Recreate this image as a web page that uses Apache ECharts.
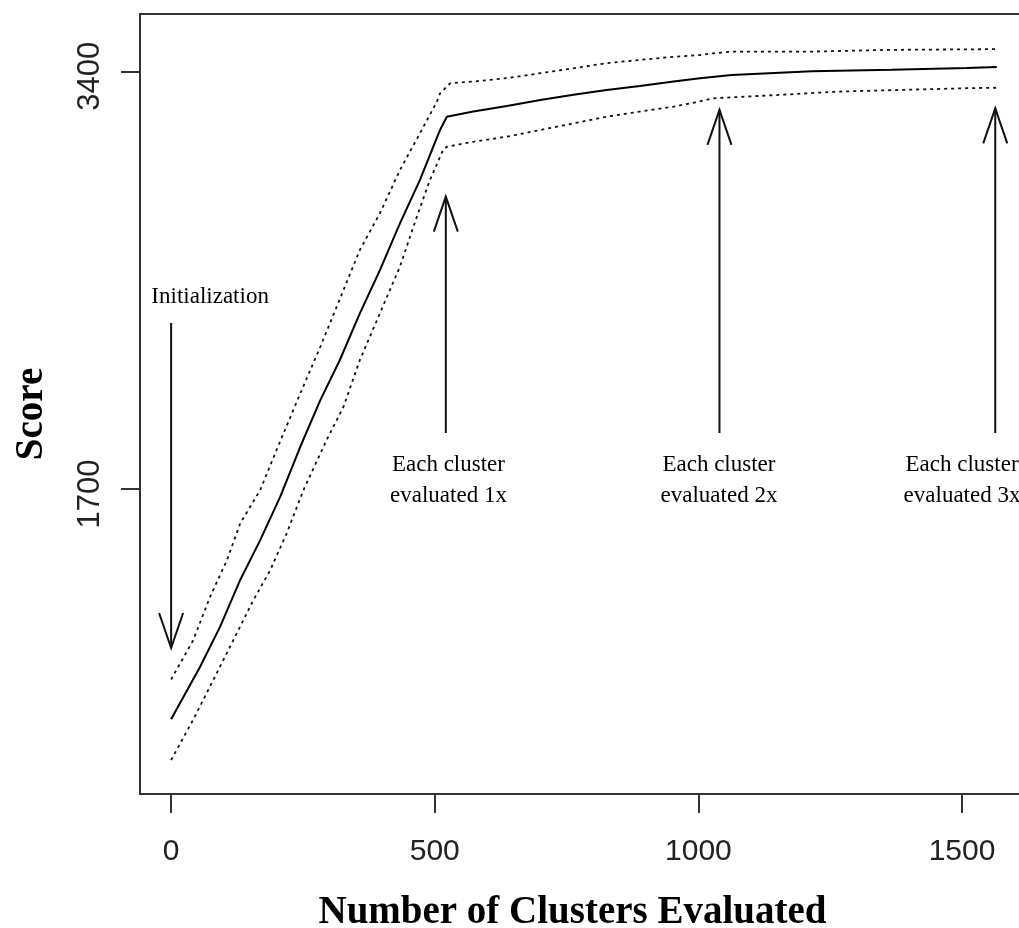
<!DOCTYPE html>
<html>
<head>
<meta charset="utf-8">
<title>Score vs Number of Clusters Evaluated</title>
<script src="https://cdn.jsdelivr.net/npm/echarts@6/dist/echarts.min.js"></script>
<style>
  html, body { margin: 0; padding: 0; background: #ffffff; }
  #chart { width: 1019px; height: 928px; }
</style>
</head>
<body>
<div id="chart"></div>
<script>
// Mean score curve and its upper / lower bounds
const meanX  = [0, 55, 93, 131, 169, 207, 245, 283, 320, 358, 396, 434, 472, 510, 523, 573, 637, 700, 763, 826, 889, 953, 1003, 1063, 1215, 1367, 1509, 1566];
const meanY  = [763, 977, 1140, 1330, 1492, 1669, 1872, 2062, 2225, 2415, 2591, 2781, 2958, 3161, 3215, 3236, 3259, 3283, 3304, 3324, 3340, 3358, 3372, 3385, 3400, 3406, 3413, 3417];

const upperX = [0, 42, 74, 106, 131, 169, 200, 245, 283, 327, 358, 396, 434, 472, 504, 510, 529, 573, 637, 700, 763, 826, 889, 953, 1003, 1028, 1066, 1218, 1357, 1566];
const upperY = [925, 1085, 1262, 1411, 1560, 1696, 1859, 2089, 2279, 2510, 2673, 2822, 2998, 3148, 3276, 3310, 3351, 3358, 3372, 3392, 3412, 3433, 3446, 3459, 3466, 3473, 3480, 3480, 3487, 3490];

const lowerX = [0, 42, 80, 118, 156, 188, 219, 251, 295, 327, 358, 396, 434, 466, 491, 516, 523, 573, 637, 700, 763, 826, 889, 953, 1000, 1028, 1092, 1155, 1262, 1382, 1509, 1566];
const lowerY = [597, 762, 923, 1085, 1248, 1370, 1519, 1696, 1900, 2035, 2225, 2415, 2605, 2808, 2958, 3080, 3093, 3113, 3134, 3161, 3188, 3215, 3236, 3256, 3276, 3290, 3297, 3304, 3317, 3324, 3331, 3333];

// Axis ticks
const xTicks = [0, 500, 1000, 1500];
const yTicks = [1700, 3400];

// Annotation arrows: x position, tail value, tip value
const arrowX    = [0, 521, 1040, 1563];
const arrowTail = [2376, 1928, 1928, 1928];
const arrowTip  = [1053, 2890, 3243, 3249];

// Annotation texts
const noteX    = [74, 526, 1039, 1500];
const noteY    = [2482, 1733, 1733, 1733];
const noteText = ['Initialization', 'Each cluster\nevaluated 1x', 'Each cluster\nevaluated 2x', 'Each cluster\nevaluated 3x'];

const pairs = (xs, ys) => xs.map((x, i) => [x, ys[i]]);
const plain = v => String(v);

const chart = echarts.init(document.getElementById('chart'), null, { renderer: 'canvas' });

const serifTitle = { fontFamily: 'Liberation Serif', fontWeight: 'bold', fontSize: 39, color: '#000' };

chart.setOption({
  animation: false,
  backgroundColor: '#ffffff',
  grid: {
    left: 140, top: 14, width: 889, height: 780,
    outerBoundsMode: 'none', containLabel: false,
    show: true, borderColor: '#333', borderWidth: 2, backgroundColor: 'transparent'
  },
  xAxis: {
    type: 'value', min: -59, max: 1627,
    name: 'Number of Clusters Evaluated', nameLocation: 'middle', nameGap: 99,
    nameTextStyle: Object.assign({}, serifTitle, { padding: [0, 24, 0, 0] }),
    axisLine: { show: false, onZero: false },
    splitLine: { show: false },
    axisTick: { show: true, inside: false, length: 19, customValues: xTicks, lineStyle: { color: '#333', width: 2 } },
    axisLabel: { customValues: xTicks, formatter: plain, margin: 43, fontFamily: 'Liberation Sans', fontSize: 30, color: '#222' }
  },
  yAxis: {
    type: 'value', min: 459, max: 3633,
    name: 'Score', nameLocation: 'middle', nameGap: 89, nameRotate: 90,
    nameTextStyle: Object.assign({}, serifTitle, { padding: [0, 20, 0, 0] }),
    axisLine: { show: false, onZero: false },
    splitLine: { show: false },
    axisTick: { show: true, inside: false, length: 19, customValues: yTicks, lineStyle: { color: '#333', width: 2 } },
    axisLabel: { customValues: yTicks, formatter: plain, rotate: 90, margin: 34, padding: [0, 10, 0, 0], fontFamily: 'Liberation Sans', fontSize: 31, color: '#222' }
  },
  series: [
    {
      name: 'upper', type: 'line', data: pairs(upperX, upperY), showSymbol: false, silent: true,
      lineStyle: { color: '#111', width: 1.8, type: [3, 4] }
    },
    {
      name: 'mean', type: 'line', data: pairs(meanX, meanY), showSymbol: false, silent: true,
      lineStyle: { color: '#000', width: 2 }
    },
    {
      name: 'lower', type: 'line', data: pairs(lowerX, lowerY), showSymbol: false, silent: true,
      lineStyle: { color: '#111', width: 1.8, type: [3, 4] }
    },
    {
      name: 'arrows', type: 'custom', silent: true, clip: false,
      data: arrowX.map((x, i) => [x, arrowTail[i], arrowTip[i]]),
      encode: { x: 0, y: [1, 2] },
      renderItem: function (params, api) {
        const tail = api.coord([api.value(0), api.value(1)]);
        const tip = api.coord([api.value(0), api.value(2)]);
        const dir = tip[1] > tail[1] ? 1 : -1;
        const headW = 12, headL = 35;
        const style = { stroke: '#111', lineWidth: 2, fill: null };
        return {
          type: 'group',
          children: [
            { type: 'polyline', shape: { points: [tail, tip] }, style: style },
            { type: 'polyline', shape: { points: [
              [tip[0] - headW, tip[1] - dir * headL], tip, [tip[0] + headW, tip[1] - dir * headL]
            ] }, style: style }
          ]
        };
      }
    },
    {
      name: 'notes', type: 'custom', silent: true, clip: false,
      data: noteX.map((x, i) => [x, noteY[i], i]),
      encode: { x: 0, y: 1 },
      renderItem: function (params, api) {
        const p = api.coord([api.value(0), api.value(1)]);
        return {
          type: 'text',
          x: p[0], y: p[1],
          style: {
            text: noteText[api.value(2)],
            fontFamily: 'Liberation Serif', fontSize: 23, lineHeight: 31,
            fill: '#000', align: 'center', verticalAlign: 'middle'
          }
        };
      }
    }
  ]
});
</script>
</body>
</html>
